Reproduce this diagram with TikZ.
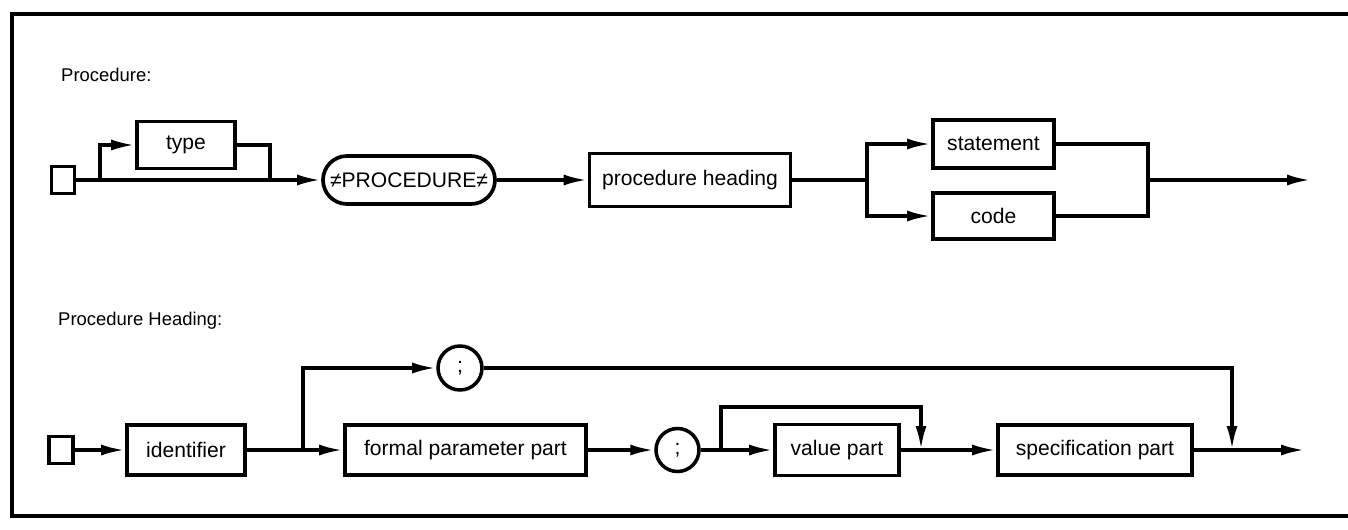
\documentclass[tikz,border=0pt]{standalone}
\usepackage{fontspec}
\setmainfont{Liberation Sans}
\usepackage{tikz}
\usetikzlibrary{arrows.meta,positioning,calc}

\begin{document}
\begin{tikzpicture}[
  font=\fontsize{12}{14}\selectfont,
  box/.style={rectangle,draw,line width=2.1pt,inner sep=0pt},
  pill/.style={rectangle,rounded corners=0.48cm,draw,line width=2.1pt,inner sep=0pt,minimum width=3.44cm,minimum height=0.96cm},
  semi/.style={circle,draw,line width=2pt,inner sep=0pt,minimum size=0.88cm},
  startbox/.style={rectangle,draw,line width=2.1pt,inner sep=0pt,minimum width=0.46cm,minimum height=0.54cm},
  conn/.style={line width=2pt},
  arr/.style={-{Latex[length=4.8mm,width=2.2mm]},line width=2pt}
]
\useasboundingbox (0,0) rectangle (26.96,10.58);
% frame, open on the right
\draw[line width=2.2pt] (26.96,10.30) -- (0.24,10.30) -- (0.24,0.26) -- (26.96,0.26);

% Procedure
\node[anchor=west,font=\fontsize{10.5}{12}\selectfont] (lab1) at (1.10,9.08) {Procedure:};
\node[startbox] (start1) at (1.26,6.98) {};
\node[box,minimum width=1.96cm,minimum height=0.94cm] (type) at (3.72,7.68) {type};
\node[pill] (proc) at (8.18,6.98) {≠PROCEDURE≠};
\node[box,minimum width=4.02cm,minimum height=1.06cm] (heading) at (13.80,6.98) {procedure heading};
\node[box,minimum width=2.42cm,minimum height=0.96cm] (stmt) at (19.87,7.70) {statement};
\node[box,minimum width=2.42cm,minimum height=0.92cm] (code) at (19.87,6.26) {code};
\coordinate (j1) at (2.00,6.98);
\coordinate (j2) at (5.40,6.98);
\coordinate (j3) at (17.34,6.98);
\coordinate (j4) at (22.96,6.98);
\coordinate (out1) at (26.22,6.98);

\draw[arr] (start1) -- (proc);
\draw[arr] (j1) |- (type);
\draw[conn] (type) -| (j2);
\draw[arr] (proc) -- (heading);
\draw[conn] (heading) -- (j3);
\draw[arr] (j3) |- (stmt);
\draw[arr] (j3) |- (code);
\draw[conn] (stmt) -| (j4);
\draw[conn] (code) -| (j4);
\draw[arr] (j4) -- (out1);

% Procedure Heading
\node[anchor=west,font=\fontsize{10.5}{12}\selectfont] (lab2) at (1.04,4.16) {Procedure Heading:};
\node[startbox,minimum width=0.48cm] (start2) at (1.22,1.58) {};
\node[box,minimum width=2.36cm,minimum height=1.0cm] (ident) at (3.72,1.58) {identifier};
\node[semi] (semi1) at (9.20,3.22) {;};
\node[box,minimum width=4.82cm,minimum height=1.0cm] (formal) at (9.31,1.58) {formal parameter part};
\node[semi,minimum size=0.86cm] (semi2) at (13.55,1.58) {;};
\node[box,minimum width=2.48cm,minimum height=1.02cm] (value) at (16.74,1.58) {value part};
\node[box,minimum width=3.88cm,minimum height=1.0cm] (spec) at (21.90,1.58) {specification part};
\coordinate (k1) at (6.06,1.58);
\coordinate (k2) at (14.42,1.58);
\coordinate (k3) at (18.42,1.58);
\coordinate (k4) at (24.64,1.58);
\coordinate (out2) at (26.10,1.58);

\draw[arr] (start2) -- (ident);
\draw[arr] (ident) -- (formal);
\draw[arr] (k1) |- (semi1);
\draw[arr] (semi1) -| (k4);
\draw[arr] (formal) -- (semi2);
\draw[arr] (semi2) -- (value);
\draw[arr] (k2) -- ++(0,0.86) -| (k3);
\draw[arr] (value) -- (spec);
\draw[arr] (spec) -- (out2);
\end{tikzpicture}
\end{document}
